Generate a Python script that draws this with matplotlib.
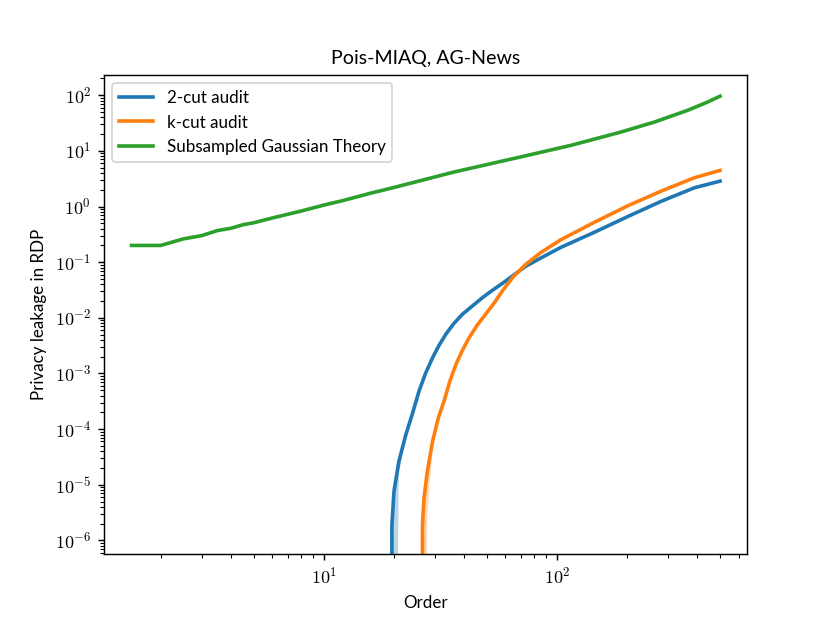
import math

import matplotlib
matplotlib.use("Agg")  # headless backend

import matplotlib.pyplot as plt
from matplotlib.ticker import FuncFormatter

# orders and RDP leakage
theory_orders = [1.5, 2, 2.5, 3, 3.5, 4, 4.5, 5, 6, 8, 10, 12, 16, 20, 36,
                 70, 115, 188, 262, 364, 443, 500]
theory_eps = [0.2, 0.2, 0.262, 0.30, 0.37, 0.407, 0.47, 0.51, 0.62, 0.83,
              1.06, 1.27, 1.75, 2.2, 4.15, 7.8, 12.6, 21.8, 33.0, 53.7,
              75.7, 96]

two_cut_orders = [19.5, 19.6, 20.0, 21.0, 22.5, 24.0, 25.6, 27.3, 29.3, 31.2,
                  33.4, 36.2, 39.4, 43.5, 48.0, 53.0, 58.5, 65.0, 73.6, 85.0,
                  104, 144.5, 201, 279.5, 388, 500]
two_cut_eps = [1e-12, 1.9e-6, 7.6e-6, 2.65e-5, 8.0e-5, 1.9e-4, 4.8e-4,
               1.0e-3, 1.93e-3, 3.2e-3, 5.1e-3, 8.0e-3, 0.0117, 0.0165,
               0.0232, 0.0315, 0.042, 0.058, 0.085, 0.118, 0.185, 0.344,
               0.66, 1.24, 2.17, 2.86]
two_cut_lo = [1e-12, 1e-12, 1e-12, 1.6e-5, 7.4e-5, 1.8e-4, 4.7e-4, 0.98e-3,
              1.9e-3, 3.17e-3, 5.06e-3, 7.95e-3, 0.0116, 0.0164, 0.0231,
              0.0314, 0.0419, 0.0579, 0.0848, 0.1178, 0.1847, 0.3437, 0.6595,
              1.238, 2.167, 2.857]
two_cut_hi = [1e-12, 2.3e-6, 9.0e-6, 3.0e-5, 8.6e-5, 2.0e-4, 4.9e-4, 1.02e-3,
              1.96e-3, 3.23e-3, 5.14e-3, 8.05e-3, 0.0118, 0.0166, 0.0233,
              0.0316, 0.0421, 0.0581, 0.0852, 0.1182, 0.1853, 0.3443, 0.6605,
              1.242, 2.173, 2.863]

k_cut_orders = [26.4, 26.5, 26.9, 27.8, 29.3, 31.0, 32.8, 34.7, 36.9, 39.3,
                42.0, 45.5, 49.5, 53.8, 58.5, 65.0, 73.6, 85.0, 104, 144.5,
                201, 279.5, 388, 500]
k_cut_eps = [1e-12, 1.9e-6, 5.7e-6, 1.75e-5, 6.1e-5, 1.6e-4, 3.2e-4, 7.2e-4,
             1.47e-3, 2.6e-3, 4.4e-3, 7.4e-3, 0.0117, 0.0185, 0.031, 0.055,
             0.092, 0.148, 0.254, 0.52, 1.03, 1.89, 3.29, 4.46]
k_cut_lo = [1e-12, 1e-12, 1e-12, 3.0e-6, 4.5e-5, 1.5e-4, 3.1e-4, 7.0e-4,
            1.44e-3, 2.57e-3, 4.36e-3, 7.36e-3, 0.0116, 0.0184, 0.0309,
            0.0549, 0.0919, 0.1478, 0.2537, 0.5195, 1.029, 1.888, 3.287,
            4.457]
k_cut_hi = [1e-12, 2.3e-6, 7.0e-6, 2.0e-5, 6.6e-5, 1.7e-4, 3.3e-4, 7.4e-4,
            1.5e-3, 2.63e-3, 4.44e-3, 7.44e-3, 0.0118, 0.0186, 0.0311,
            0.0551, 0.0921, 0.1482, 0.2543, 0.5205, 1.031, 1.892, 3.293,
            4.463]

plt.rcParams["font.family"] = ["Lato", "DejaVu Sans"]
plt.rcParams["mathtext.fontset"] = "cm"

fig = plt.figure(figsize=(830.1 / 130, 623.1 / 130), dpi=130)
ax = fig.add_subplot(111)

ax.plot(two_cut_orders, two_cut_eps, color="C0", lw=2, label="2-cut audit")
ax.fill_between(two_cut_orders, two_cut_lo, two_cut_hi, color="C0",
                alpha=0.3, lw=0)
ax.plot(k_cut_orders, k_cut_eps, color="C1", lw=2, label="k-cut audit")
ax.fill_between(k_cut_orders, k_cut_lo, k_cut_hi, color="C1",
                alpha=0.3, lw=0)
ax.plot(theory_orders, theory_eps, color="C2", lw=2,
        label="Subsampled Gaussian Theory")

ax.set_xscale("log")
ax.set_yscale("log")
ax.set_xlim(1.14, 653)
ax.set_ylim(5.6e-7, 234)

sci = FuncFormatter(lambda v, pos: r"$10^{%d}$" % round(math.log10(v)))
ax.xaxis.set_major_formatter(sci)
ax.yaxis.set_major_formatter(sci)

ax.set_title("Pois-MIAQ, AG-News", fontsize=10.9)
ax.set_xlabel("Order", fontsize=9.4)
ax.set_ylabel("Privacy leakage in RDP", fontsize=9.4)
ax.legend(loc="upper left", fontsize=9.4)

plt.savefig("out.png", dpi=130)
plt.close()
